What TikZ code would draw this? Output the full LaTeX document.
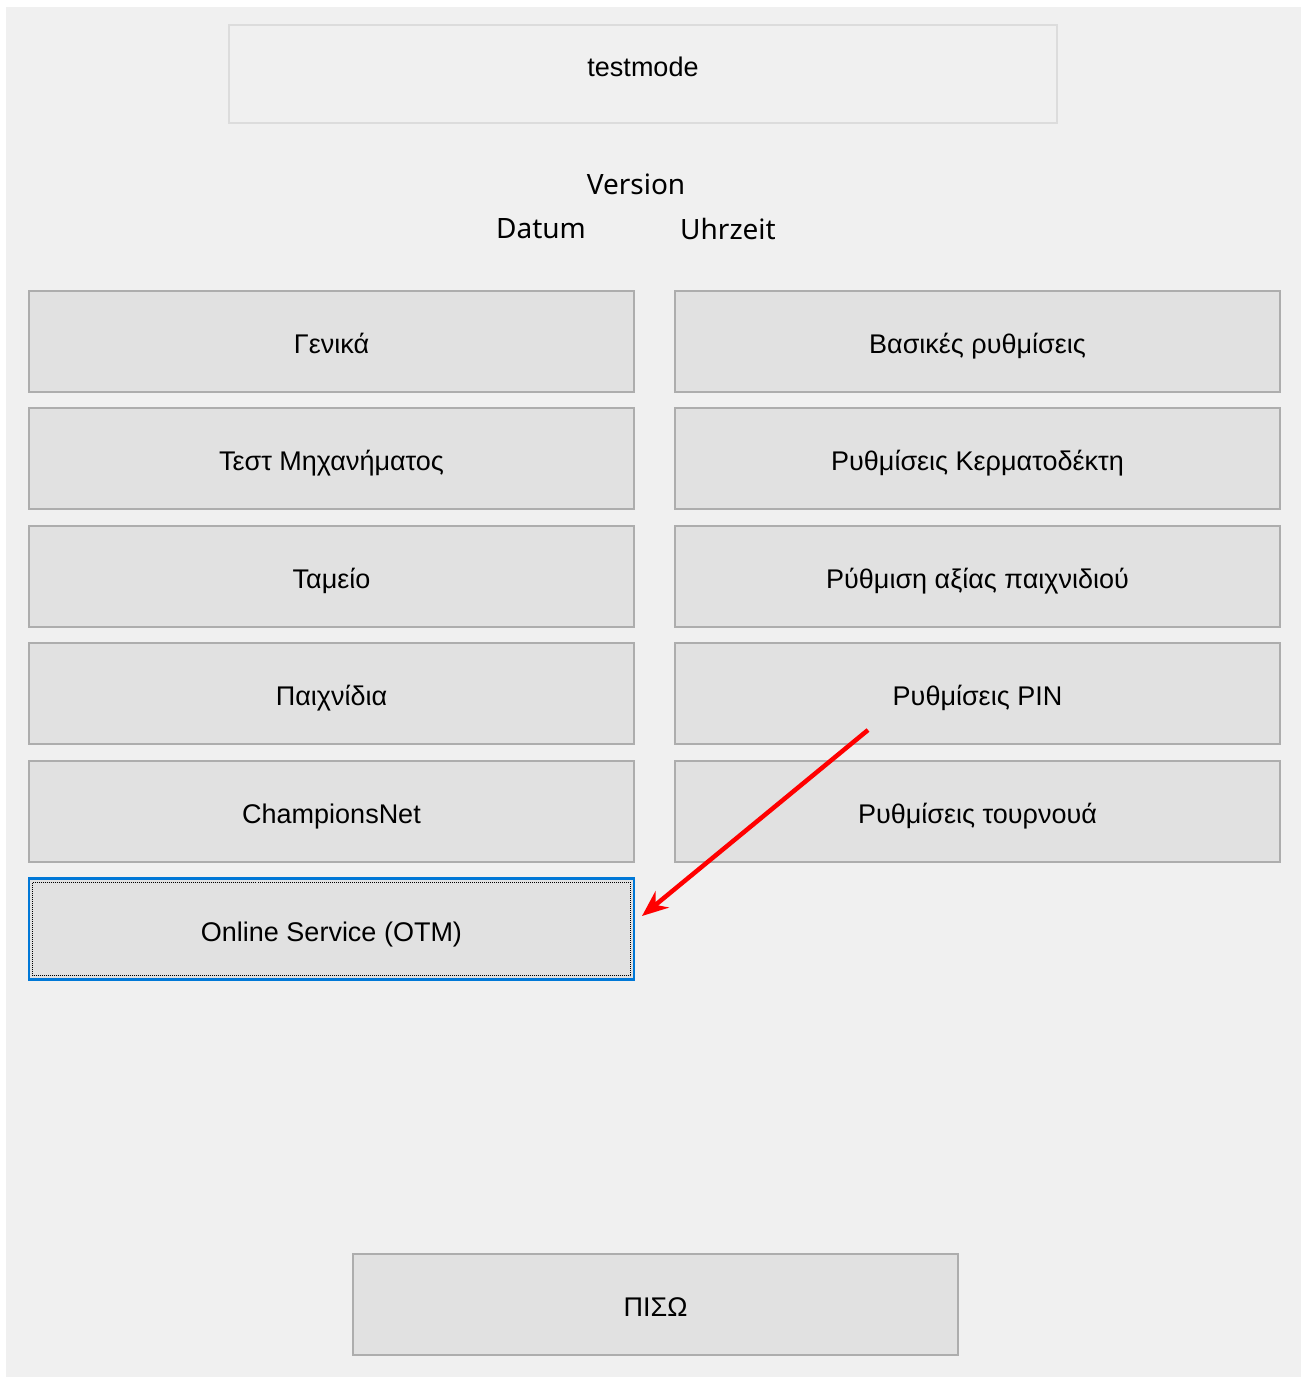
\documentclass[tikz,border=0pt]{standalone}
\usepackage{fontspec}
\setmainfont{Liberation Sans}
\newfontfamily\uifont{Noto Sans}
\usetikzlibrary{arrows.meta}

\definecolor{winbg}{HTML}{F0F0F0}
\definecolor{btnfill}{HTML}{E1E1E1}
\definecolor{btnline}{HTML}{ADADAD}
\definecolor{hdrline}{HTML}{DCDCDC}
\definecolor{focusblue}{HTML}{0078D7}

\tikzset{
  button/.style={draw=btnline, fill=btnfill, line width=2pt,
    minimum width=605pt, minimum height=101pt, inner sep=0pt,
    text height=24pt, text depth=0pt,
    font=\fontsize{27}{31}\selectfont},
  header/.style={draw=hdrline, fill=winbg, line width=2pt,
    minimum width=828pt, minimum height=98pt, inner sep=0pt},
  hdrtext/.style={inner sep=0pt, font=\fontsize{27}{31}\selectfont},
  infotext/.style={inner sep=0pt, font=\uifont\fontsize{28}{32}\selectfont, text=black},
  pointer/.style={draw=red, line width=4.5pt, -{Stealth[length=26pt, width=21pt]}}
}

\begin{document}
\begin{tikzpicture}[x=1pt, y=-1pt]
                % window
                \useasboundingbox (0,0) rectangle (1301,1378);
                \fill[white] (0,0) rectangle (1301,1378);
                \fill[winbg] (6,7) rectangle (1301,1377);
                % header
                \node[header] (mode) at (643,74) {};
                \node[hdrtext] (modetext) at (643,67) {testmode};
                \node[infotext] (version) at (636,184) {Version};
                \node[infotext] (datum) at (541,229) {Datum};
                \node[infotext] (uhrzeit) at (728,229) {Uhrzeit};
                % left column
                \node[button] (general) at (331.5,341.5) {Γενικά};
                \node[button] (test) at (331.5,458.5) {Τεστ Μηχανήματος};
                \node[button] (cash) at (331.5,576.5) {Ταμείο};
                \node[button] (games) at (331.5,693.5) {Παιχνίδια};
                \node[button] (cnet) at (331.5,811.5) {ChampionsNet};
                \node[button, draw=focusblue, line width=2.5pt] (otm) at (331.5,929) {Online Service (OTM)};
                \draw[line width=1.3pt, dash pattern=on 1pt off 1pt] (32.5,882.5) rectangle (630.5,975.5);
                % right column
                \node[button] (basic) at (977.5,341.5) {Βασικές ρυθμίσεις};
                \node[button] (coin) at (977.5,458.5) {Ρυθμίσεις Κερματοδέκτη};
                \node[button] (value) at (977.5,576.5) {Ρύθμιση αξίας παιχνιδιού};
                \node[button] (pin) at (977.5,693.5) {Ρυθμίσεις PIN};
                \node[button] (tour) at (977.5,811.5) {Ρυθμίσεις τουρνουά};
                % back
                \node[button] (back) at (655.5,1304.5) {ΠΙΣΩ};
                % marker arrow
                \coordinate (tail) at (868,730);
                \coordinate (tip) at (642,916);
                \draw[pointer] (tail) -- (tip);
\end{tikzpicture}
\end{document}
